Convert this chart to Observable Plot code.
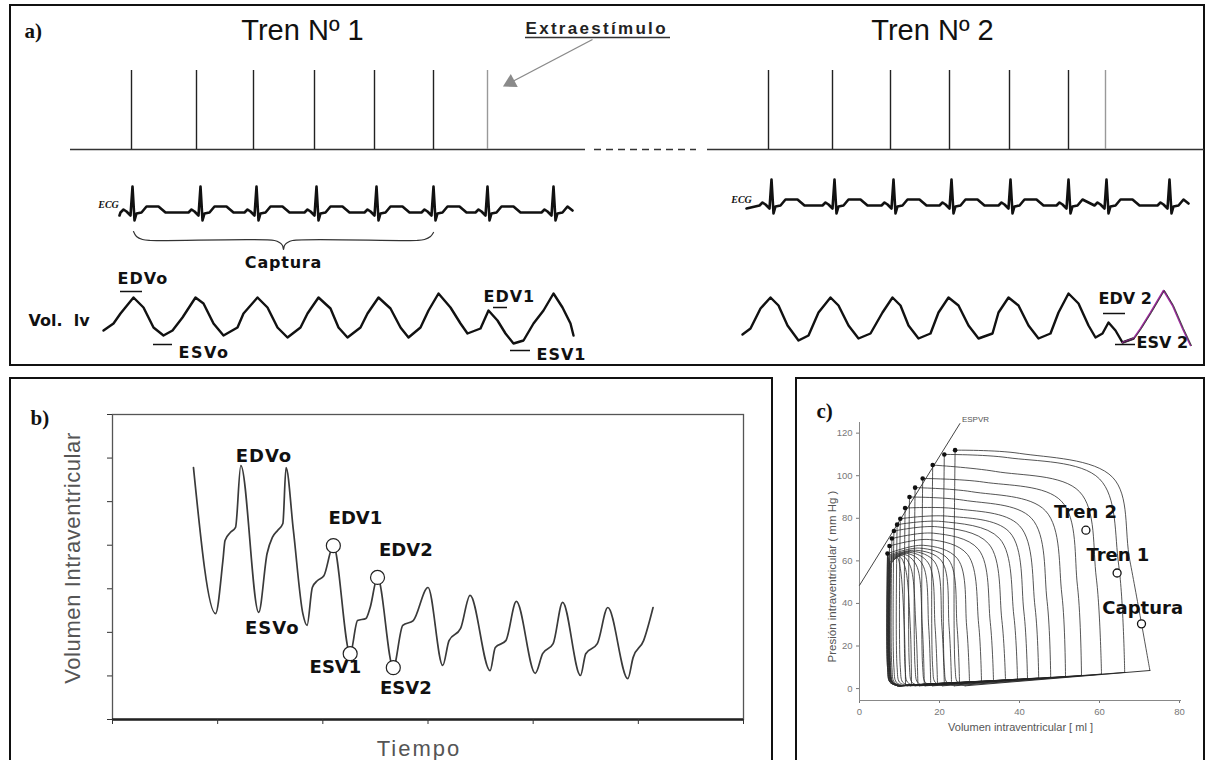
<!DOCTYPE html>
<html><head><meta charset="utf-8">
<script src="https://cdn.jsdelivr.net/npm/d3@7"></script>
<script src="https://cdn.jsdelivr.net/npm/@observablehq/plot@0.6"></script>
<style>
body{margin:0;background:#fff;}
#root{position:relative;width:1209px;height:760px;overflow:hidden;background:#fff;}
.box{position:absolute;border:2px solid #111;box-sizing:border-box;}
.panel{position:absolute;}
</style></head><body><div id="root"></div>
<script>
// ================= DATA =================
// ---- panel a : stimulation trains (time positions along the record) ----
const trainTitles = ["Tren Nº 1", "Tren Nº 2"];
const trainTitleT = [302, 932];
const stim1 = [131, 196, 253, 314, 374, 433, 487];
const stim2 = [768, 832, 890, 949, 1009, 1068, 1105];
const stimExtra = [0, 0, 0, 0, 0, 0, 1];
// ECG R-wave times and beat template (offset, level change)
const ecg1R = [132, 200, 256, 316, 376, 433, 487, 553];
const ecg2R = [771, 834, 893, 951, 1010, 1068, 1106, 1169];
const beatDt = [-12, -9, -6, -2, 0, 2, 4, 9, 14, 26, 33];
const beatDv = [0, -3, -1, 3, -26, 8, 1, 0, -6, -6, 0];
// LV volume traces (time, level)
const vol1T = [103,113,120,133,143,153,163,172,182,195,203,213,223,237,243,257,267,277,287,300,307,318,330,338,347,360,367,378,390,400,408,420,428,438,450,460,467,480,488,497,505,513,523,533,543,553,562,570,573];
const vol1V = [330,323,313,297,307,327,335,330,317,297,303,323,335,327,313,297,307,327,337,327,313,297,308,327,337,327,313,297,308,327,337,327,310,293,307,323,333,328,310,320,333,343,340,323,310,293,307,323,335];
const vol2T = [742,750,760,770,778,787,798,808,818,830,838,848,858,870,882,892,900,908,918,930,938,948,958,968,978,992,998,1008,1018,1028,1038,1050,1058,1068,1078,1088,1095,1102,1108,1115,1122,1133,1140,1150,1163,1172,1182,1190];
const vol2V = [334,328,308,297,305,325,340,335,312,297,305,325,338,333,312,297,305,325,338,333,312,297,305,325,338,333,312,297,305,325,338,333,312,293,303,325,337,333,322,330,342,338,328,312,290,305,328,345];
const braceT = [133,136,142,150,274,279,282,283,284,287,292,416,424,430,433];
const braceV = [231,236,239,240,240,242,245,249,245,242,240,240,239,236,232];
const aLabels = ["EDVo","ESVo","EDV1","ESV1","EDV 2","ESV 2"];
const aLabelT = [117, 178, 483, 536, 1098, 1136];
const aLabelV = [278, 352, 296, 354, 298, 342];
const aMarkT1 = [120, 153, 493, 510, 1103, 1115];
const aMarkT2 = [142, 172, 507, 530, 1125, 1135];
const aMarkV  = [291, 344, 307, 350, 313, 344];

// ---- panel b : volume vs time ----
const bTime = [0.77,0.98,1.05,1.07,1.12,1.17,1.22,1.39,1.47,1.52,1.57,1.62,1.65,1.72,1.81,1.85,1.90,1.95,2.01,2.10,2.26,2.33,2.41,2.45,2.52,2.67,2.76,2.86,3.00,3.14,3.20,3.31,3.40,3.59,3.64,3.74,3.84,4.02,4.09,4.19,4.28,4.45,4.50,4.61,4.71,4.90,4.95,5.05,5.14];
const bVol  = [5.78,2.43,3.65,4.11,4.29,4.41,5.83,2.46,3.81,4.18,4.34,4.50,5.78,4.34,2.43,2.16,3.03,3.19,3.30,3.99,1.51,2.27,2.32,2.57,3.26,1.19,2.16,2.27,3.03,1.24,1.81,2.09,2.85,1.12,1.65,1.81,2.71,1.06,1.51,1.74,2.69,1.01,1.51,1.74,2.57,0.94,1.42,1.81,2.57];
const bPointNames = ["EDV1","ESV1","EDV2","ESV2"];
const bPointT = [2.10, 2.26, 2.52, 2.67];
const bPointV = [3.99, 1.51, 3.26, 1.19];
const bLabels = ["EDVo","ESVo","EDV1","EDV2","ESV1","ESV2"];
const bLabelT = [1.44, 1.52, 2.31, 2.79, 2.12, 2.79];
const bLabelV = [6.04, 2.09, 4.61, 3.88, 1.19, 0.71];

// ---- panel c : pressure-volume loops ----
const loopESV = [23.9,21.2,18.3,15.8,13.9,12.5,11.4,10.2,9.4,8.6,8.1,7.5,7.0,7.0,7.1,7.2,7.3,7.4,7.5,7.6,7.7,7.8];
const loopESP = [112,110,105,98.7,94.4,90,84.8,79.8,77,74,70.5,67,63.4,62.5,62,61.5,61,60.5,60,59.5,59,58.5];
const loopTopV = [40,37,34,31,28,26,24,22,20.5,19.5,18.5,17.5,16,15,14,13.2,12.5,11.8,11.2,10.6,10,9.4];
const loopTopP = [110.5,108.5,102,97,92.5,88.5,84.5,81,78.5,76,73,70,67.3,66,65,64.5,64,63.5,63,62.5,62,61.5];
const loopShV = [63.3,60,55,50.5,46.5,43,40,37.5,35,32.3,29.7,27,24.5,22.3,20.5,18.8,17.2,15.7,14.2,12.7,11.4,10.2];
const loopShP = [99.2,98.5,92.5,88,83.5,80,76.5,73.5,70.5,68,65.5,63,61,60.5,60,59.5,59,58.5,58,57.5,57,56.5];
const loopRV = [67.6,64.8,59.2,54.5,50.6,46.9,43.9,41.1,38.6,35.6,32.7,29.8,26.8,24.4,22.4,20.6,18.9,17.3,15.7,14.1,12.7,11.2];
const loopRP = [60,58,52,48,44,41,38,36,34,32,31,30,29,29,29,29,29,29,29,29,29,29];
const loopEDV = [72.6,66.3,60.5,55.5,51.5,47.8,44.8,42,39.5,36.5,33.5,30.5,27.5,25,23,21.2,19.5,17.8,16.2,14.6,13,11.5];
const loopEDP = [8.5,7.6,6.8,6.2,5.7,5.3,5,4.7,4.4,4.1,3.8,3.5,3.2,3,2.8,2.6,2.4,2.2,2,1.8,1.6,1.5];
const espvrV = [0, 25.1];
const espvrP = [48.5, 124.5];
const cTrainNames = ["Tren 2", "Tren 1", "Captura"];
const cTrainV = [56.6, 64.4, 70.5];
const cTrainP = [74.4, 54.3, 30.4];
const cTrainLabelV = [56.5, 64.6, 70.8];
const cTrainLabelP = [83, 62.6, 37.6];

// ================= BUILD =================
const root = document.getElementById("root");
function box(l, t, w, h, bw) {
  const d = document.createElement("div"); d.className = "box";
  Object.assign(d.style, {left: l + "px", top: t + "px", width: w + "px", height: h + "px", borderWidth: bw + "px"});
  root.appendChild(d);
}
function place(el, l, t) {
  const d = document.createElement("div"); d.className = "panel";
  d.style.left = l + "px"; d.style.top = t + "px"; d.appendChild(el); root.appendChild(d);
}
function spacing(svg, str, ls) {
  svg.querySelectorAll("text").forEach(t => { if (t.textContent === str) t.style.letterSpacing = ls; });
}
box(9, 4, 1196, 362, 2);
box(9, 377, 764, 420, 2);
box(795, 377, 410, 420, 2);

const bold = "DejaVu Sans";
// ---- panel a ----
function ecgRows(rs, base, start, end, id) {
  const rows = [{t: start, v: base + 3, id}];
  rs.forEach((r, i) => {
    const next = i < rs.length - 1 ? rs[i + 1] + beatDt[0] : end;
    beatDt.forEach((dt, k) => {
      const t = r + dt;
      if (t < next && t < end && t > start) rows.push({t, v: base + beatDv[k], id});
    });
  });
  rows.push({t: end, v: base - 2, id});
  return rows;
}
const ecgData = [...ecgRows(ecg1R, 212, 119, 572, "e1"), ...ecgRows(ecg2R, 205, 746, 1188, "e2")];
const stimData = [...stim1.map((t, i) => ({t, extra: stimExtra[i]})), ...stim2.map((t, i) => ({t, extra: stimExtra[i]}))];
const vol1 = vol1T.map((t, i) => ({t, v: vol1V[i]}));
const vol2 = vol2T.map((t, i) => ({t, v: vol2V[i]}));
const brace = braceT.map((t, i) => ({t, v: braceV[i]}));
const aLab = aLabels.map((s, i) => ({s, t: aLabelT[i], v: aLabelV[i]}));
const aMark = aMarkT1.map((t1, i) => ({t1, t2: aMarkT2[i], v: aMarkV[i]}));

const plotA = Plot.plot({
  width: 1209, height: 372, margin: 0,
  x: {domain: [0, 1209], range: [0, 1209], axis: null},
  y: {domain: [0, 372], range: [0, 372], axis: null},
  style: {background: "transparent", overflow: "visible", color: "#111"},
  marks: [
    Plot.text(["a)"], {x: 24, y: 31, text: d => d, textAnchor: "start", fontFamily: "Liberation Serif", fontWeight: "bold", fontSize: 21, fill: "#111"}),
    Plot.text(trainTitles, {x: (d, i) => trainTitleT[i], y: 30, text: d => d, fontFamily: "Liberation Sans", fontSize: 29, fill: "#111"}),
    Plot.text(["Extraestímulo"], {x: 525, y: 28, text: d => d, textAnchor: "start", fontFamily: "Liberation Sans", fontWeight: "bold", fontSize: 17, fill: "#222"}),
    Plot.ruleY([37], {x1: 525, x2: 670, stroke: "#333", strokeWidth: 1.3}),
    Plot.link([0], {x1: 592, y1: 39, x2: 512, y2: 81, stroke: "#8a8a8a", strokeWidth: 1.4}),
    Plot.dot([0], {x: 510, y: 82, symbol: "triangle", r: 5.5, fill: "#8a8a8a", rotate: 242}),
    Plot.ruleY([149], {x1: 70, x2: 585, stroke: "#333", strokeWidth: 1.6}),
    Plot.ruleY([149], {x1: 594, x2: 696, stroke: "#333", strokeWidth: 1.4, strokeDasharray: "7,5"}),
    Plot.ruleY([149], {x1: 707, x2: 1204, stroke: "#333", strokeWidth: 1.6}),
    Plot.ruleX(stimData, {x: "t", y1: 70, y2: 149, stroke: d => d.extra ? "#999" : "#222", strokeWidth: 1.4}),
    Plot.line(ecgData, {x: "t", y: "v", z: "id", stroke: "#111", strokeWidth: 2.6, strokeLinejoin: "round"}),
    Plot.text(["ECG", "ECG"], {x: (d, i) => [108, 741][i], y: (d, i) => [204, 199][i], text: d => d, fontFamily: "Liberation Serif", fontStyle: "italic", fontWeight: "bold", fontSize: 10, fill: "#111"}),
    Plot.line(brace, {x: "t", y: "v", curve: "catmull-rom", stroke: "#333", strokeWidth: 1.2}),
    Plot.text(["Captura"], {x: 283, y: 262, text: d => d, fontFamily: bold, fontWeight: "bold", fontSize: 16, fill: "#111"}),
    Plot.text(["Vol.\u00a0\u00a0lv"], {x: 28, y: 320, text: d => d, textAnchor: "start", fontFamily: bold, fontWeight: "bold", fontSize: 16, fill: "#111"}),
    Plot.line(vol1, {x: "t", y: "v", stroke: "#111", strokeWidth: 2.4, strokeLinejoin: "round"}),
    Plot.line(vol2.slice(0, 42), {x: "t", y: "v", stroke: "#111", strokeWidth: 2.4, strokeLinejoin: "round"}),
    Plot.line(vol2.slice(40), {x: "t", y: "v", stroke: "#9b2b9b", strokeWidth: 1.6, strokeLinejoin: "round"}),
    Plot.line(vol2.slice(40), {x: "t", y: "v", stroke: "#222", strokeWidth: 0.8, dx: 1}),
    Plot.ruleY(aMark, {y: "v", x1: "t1", x2: "t2", stroke: "#111", strokeWidth: 1.5}),
    Plot.text(aLab, {x: "t", y: "v", text: "s", textAnchor: "start", fontFamily: bold, fontWeight: "bold", fontSize: 16, fill: "#111"})
  ]
});
spacing(plotA, "EDVo", "1px"); spacing(plotA, "ESVo", "1.5px"); spacing(plotA, "EDV1", "1px"); spacing(plotA, "ESV1", "1px");
spacing(plotA, "Extraestímulo", "2.3px"); spacing(plotA, "Captura", "0.8px");
place(plotA, 0, 0);

// ---- panel b ----
const bLine = bTime.map((t, i) => ({t, v: bVol[i]}));
const bPts = bPointNames.map((n, i) => ({n, t: bPointT[i], v: bPointV[i]}));
const bLab = bLabels.map((s, i) => ({s, t: bLabelT[i], v: bLabelV[i]}));
const plotB = Plot.plot({
  width: 762, height: 382, marginLeft: 102, marginRight: 29, marginTop: 36, marginBottom: 41,
  x: {domain: [0, 6]}, y: {domain: [0, 7]},
  style: {background: "transparent", overflow: "visible", color: "#333"},
  marks: [
    Plot.frame({stroke: "#555", strokeWidth: 1.3}),
    Plot.ruleY([0], {stroke: "#222", strokeWidth: 2.4}),
    Plot.axisY({ticks: d3.range(0, 8), tickSize: 5, tickFormat: () => "", label: null}),
    Plot.axisX({ticks: d3.range(0, 7), tickSize: 5, tickFormat: () => "", label: null}),
    Plot.line(bLine, {x: "t", y: "v", curve: "monotone-x", stroke: "#3a3a3a", strokeWidth: 1.7, strokeLinejoin: "round"}),
    Plot.dot(bPts, {x: "t", y: "v", r: 7, fill: "white", stroke: "#222", strokeWidth: 1.2}),
    Plot.text(bLab, {x: "t", y: "v", text: "s", fontFamily: bold, fontWeight: "bold", fontSize: 18, fill: "#111"}),
    Plot.text(["b)"], {frameAnchor: "top-left", dx: -82, dy: -4, text: d => d, textAnchor: "start", fontFamily: "Liberation Serif", fontWeight: "bold", fontSize: 21, fill: "#111"}),
    Plot.text(["Volumen Intraventricular"], {frameAnchor: "left", dx: -40, dy: -9, rotate: -90, textAnchor: "middle", lineAnchor: "middle", text: d => d, fontFamily: "Liberation Sans", fontSize: 22, fill: "#555"}),
    Plot.text(["Tiempo"], {frameAnchor: "bottom", dx: -9, dy: 29, textAnchor: "middle", lineAnchor: "middle", text: d => d, fontFamily: "Liberation Sans", fontSize: 22, fill: "#555"})
  ]
});
spacing(plotB, "Tiempo", "2px"); spacing(plotB, "Volumen Intraventricular", "0.6px");
spacing(plotB, "EDVo", "1px"); spacing(plotB, "ESVo", "1px");
place(plotB, 10, 378);

// ---- panel c ----
const loopRows = [];
loopESV.forEach((esv, i) => {
  const right = [[loopEDV[i], loopEDP[i]], [loopRV[i], loopRP[i]], [loopShV[i], loopShP[i]], [loopTopV[i], loopTopP[i]], [esv, loopESP[i]]];
  right.forEach(([v, p]) => loopRows.push({id: "r" + i, v, p}));
  [[esv, loopESP[i]], [esv, 10], [esv + 0.6, 3], [esv + 2.5, 1.3]].forEach(([v, p]) => loopRows.push({id: "l" + i, v, p}));
});
const loopBottom = [];
loopESV.forEach((esv, i) => {
  loopBottom.push({id: "b" + i, v: esv + 2.5, p: 1.3}, {id: "b" + i, v: loopEDV[i], p: loopEDP[i]});
});
const loopDots = loopESV.slice(0, 13).map((v, i) => ({v, p: loopESP[i]}));
const espvr = espvrV.map((v, i) => ({v, p: espvrP[i]}));
const cTrains = cTrainNames.map((s, i) => ({s, v: cTrainV[i], p: cTrainP[i], lv: cTrainLabelV[i], lp: cTrainLabelP[i]}));

const plotC = Plot.plot({
  width: 409, height: 382, marginLeft: 64, marginRight: 23, marginTop: 44, marginBottom: 60,
  x: {domain: [0, 80.5]}, y: {domain: [-5.6, 125]},
  style: {background: "transparent", overflow: "visible", color: "#777", fontFamily: "Liberation Sans Narrow, Liberation Sans", fontSize: "9.5px"},
  marks: [
    Plot.axisX({ticks: [0, 20, 40, 60, 80], tickSize: 3, tickPadding: 5, label: null}),
    Plot.axisY({ticks: [0, 20, 40, 60, 80, 100, 120], tickSize: 3, tickPadding: 4, label: null}),
    Plot.ruleX([0], {y1: -5.6, y2: 125, stroke: "#888"}),
    Plot.ruleY([-5.6], {x1: 0, x2: 80.5, stroke: "#888"}),
    Plot.line(espvr, {x: "v", y: "p", stroke: "#444", strokeWidth: 1}),
    Plot.line(loopBottom, {x: "v", y: "p", z: "id", stroke: "#222", strokeWidth: 0.9}),
    Plot.line(loopRows, {x: "v", y: "p", z: "id", curve: "catmull-rom", stroke: "#2a2a2a", strokeWidth: 0.8}),
    Plot.dot(loopDots, {x: "v", y: "p", r: 2.3, fill: "#111"}),
    Plot.text(["ESPVR"], {x: 25.6, y: 126.5, text: d => d, textAnchor: "start", fontSize: 8, fill: "#555"}),
    Plot.dot(cTrains, {x: "v", y: "p", r: 4, fill: "white", stroke: "#111", strokeWidth: 1.3}),
    Plot.text(cTrains, {x: "lv", y: "lp", text: "s", fontFamily: bold, fontWeight: "bold", fontSize: 18, fill: "#111"}),
    Plot.text(["c)"], {frameAnchor: "top-left", dx: -43, dy: -19, text: d => d, textAnchor: "start", fontFamily: "Liberation Serif", fontWeight: "bold", fontSize: 21, fill: "#111"}),
    Plot.text(["Presión intraventricular ( mm Hg )"], {frameAnchor: "left", dx: -27, dy: 15, rotate: -90, textAnchor: "middle", lineAnchor: "middle", text: d => d, fontSize: 11.5, fill: "#555"}),
    Plot.text(["Volumen intraventricular [ ml ]"], {frameAnchor: "bottom", dy: 27, textAnchor: "middle", lineAnchor: "middle", text: d => d, fontSize: 11, fill: "#555"})
  ]
});
place(plotC, 795, 378);
</script></body></html>
